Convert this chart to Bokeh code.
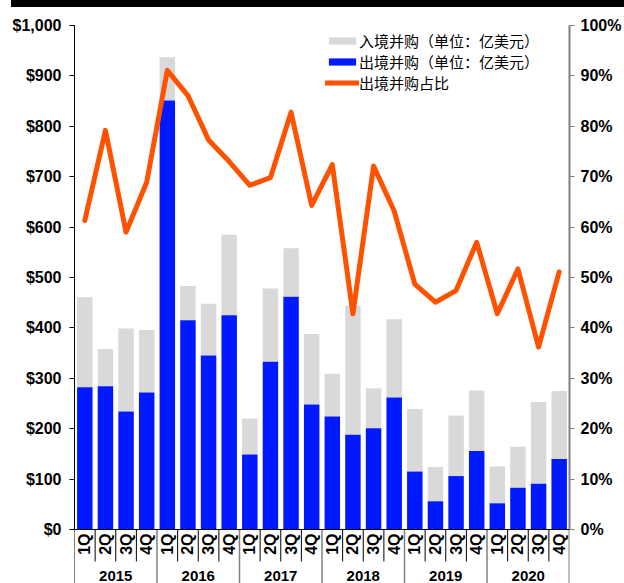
import numpy as np
from bokeh.plotting import figure
from bokeh.models import (FactorRange, Range1d, LinearAxis, NumeralTickFormatter, FixedTicker,
                          ColumnDataSource, Legend, LegendItem, Span, Div)
from bokeh.layouts import column
from bokeh.transform import stack
from bokeh.embed import file_html
from bokeh.resources import INLINE
from bokeh.core.properties import value

# ---------------- data ----------------
years = ["2015", "2016", "2017", "2018", "2019", "2020"]
quarters = ["1Q", "2Q", "3Q", "4Q"]
# 出境并购 (亿美元)
outbound = [282, 284, 234, 272,
            851, 415, 345, 425,
            149, 333, 462, 248,
            224, 188, 201, 262,
            115, 56, 106, 156,
            52, 83, 91, 140]
# 入境并购 (亿美元)
inbound = [179, 74, 165, 124,
           86, 68, 103, 160,
           71, 145, 96, 140,
           85, 256, 79, 155,
           124, 68, 120, 120,
           73, 81, 162, 135]
# 出境并购占比 (%)
ratio = [61.3, 79.2, 59.0, 68.9,
         91.1, 86.1, 77.3, 73.0,
         68.3, 69.8, 82.8, 64.3,
         72.4, 42.8, 72.1, 63.2,
         48.7, 45.1, 47.4, 57.0,
         42.8, 51.7, 36.2, 51.1]
left_ticks = list(range(0, 1001, 100))
right_ticks = [i / 10 for i in range(11)]

GRAY = "#D9D9D9"
BLUE = "#0019FF"
ORANGE = "#FF5200"
FONT = "Liberation Sans"
CJK = "Noto Sans CJK SC"

factors = [(y, q) for y in years for q in quarters]
src = ColumnDataSource(dict(x=factors, q=[f[1] for f in factors], out=outbound, inb=inbound,
                            ratio=[r / 100 for r in ratio]))

# pixel scale: 504 px for 1000
PX = 0.504
y_start = -54 / PX
y_end = 1000 + 18 / PX

x_range = FactorRange(factors=factors, factor_padding=0, group_padding=0,
                      subgroup_padding=0, range_padding=0)

p = figure(width=624, height=576, x_range=x_range, y_range=Range1d(y_start, y_end),
           output_backend="svg", toolbar_location=None,
           x_axis_location=None, y_axis_location=None,
           min_border_left=74, min_border_right=54, min_border_top=0, min_border_bottom=0)
p.outline_line_color = None
for g in p.grid:
    g.visible = False
p.extra_y_ranges = {"pct": Range1d(y_start / 1000, y_end / 1000)}

# left axis
yl = LinearAxis(bounds=(0, 1000), ticker=FixedTicker(ticks=left_ticks, minor_ticks=[]),
                formatter=NumeralTickFormatter(format="$0,0"))
yl.axis_line_color = "black"
yl.major_tick_line_color = "black"
yl.major_tick_out = 5
yl.major_tick_in = 0
yl.minor_tick_out = 0
yl.minor_tick_in = 0
yl.major_label_text_font = FONT
yl.major_label_text_font_style = "bold"
yl.major_label_text_font_size = "16px"
yl.major_label_text_color = "black"
yl.major_label_standoff = 8
p.add_layout(yl, "left")

# right axis
yr = LinearAxis(y_range_name="pct", bounds=(0, 1),
                ticker=FixedTicker(ticks=right_ticks, minor_ticks=[]),
                formatter=NumeralTickFormatter(format="0%"))
yr.axis_line_color = "#808080"
yr.axis_line_width = 2
yr.major_tick_line_color = "#808080"
yr.major_tick_out = 5
yr.major_tick_in = 0
yr.minor_tick_out = 0
yr.minor_tick_in = 0
yr.major_label_text_font = FONT
yr.major_label_text_font_style = "bold"
yr.major_label_text_font_size = "16px"
yr.major_label_text_color = "black"
yr.major_label_standoff = 6
p.add_layout(yr, "right")

# bars
gray = p.vbar(x="x", bottom=stack("out"), top=stack("out", "inb"), width=0.75,
              source=src, fill_color=GRAY, line_color=None)
blue = p.vbar(x="x", bottom=0, top="out", width=0.75, source=src,
              fill_color=BLUE, line_color=None)

# zero line
p.add_layout(Span(location=0, dimension="width", line_color="black", line_width=1))

# category separators
sep_short = -32 / PX
inner_x = [(y, q, -0.5) for y in years for q in quarters[1:]]
p.segment(x0=inner_x, x1=inner_x, y0=0, y1=sep_short, line_color="black", line_width=1)
year_x = [(y, "1Q", -0.5) for y in years[1:]]
p.segment(x0=year_x, x1=year_x, y0=0, y1=y_start, line_color="#808080", line_width=1.5)
edge_l = [(years[0], "1Q", -0.5)]
p.segment(x0=edge_l, x1=edge_l, y0=0, y1=y_start, line_color="black", line_width=1)
edge_r = [(years[-1], "4Q", 0.5)]
p.segment(x0=edge_r, x1=edge_r, y0=0, y1=y_start, line_color="#808080", line_width=2)

# quarter labels
p.text(x="x", y=0, text="q", source=src, angle=np.pi / 2, y_offset=4,
       text_align="right", text_baseline="middle",
       text_font=value(FONT), text_font_style="bold", text_font_size="16px", text_color="black")
# year labels
p.text(x=years, y=0, text=years, y_offset=41, text_align="center", text_baseline="top",
       text_font=value(FONT), text_font_style="bold", text_font_size="15px", text_color="black")

# ratio line
line = p.line(x="x", y="ratio", source=src, y_range_name="pct", line_color=ORANGE,
              line_width=5, line_join="round", line_cap="round")

legend = Legend(items=[LegendItem(label="入境并购（单位：亿美元）", renderers=[gray]),
                       LegendItem(label="出境并购（单位：亿美元）", renderers=[blue]),
                       LegendItem(label="出境并购占比", renderers=[line])],
                location=(251, 490), orientation="vertical",
                border_line_color=None, background_fill_alpha=0,
                padding=0, margin=0, spacing=0,
                glyph_width=34, glyph_height=9, label_height=18, label_standoff=0,
                label_text_font=CJK, label_text_font_size="15px", label_text_color="black",
                label_text_line_height=1.0)
p.add_layout(legend)

bar = Div(text="", width=613, height=7, margin=(0, 0, 0, 11), styles={"background-color": "black"})
layout = column(bar, p, spacing=0)

open("out.html", "w").write(file_html(layout, INLINE))
